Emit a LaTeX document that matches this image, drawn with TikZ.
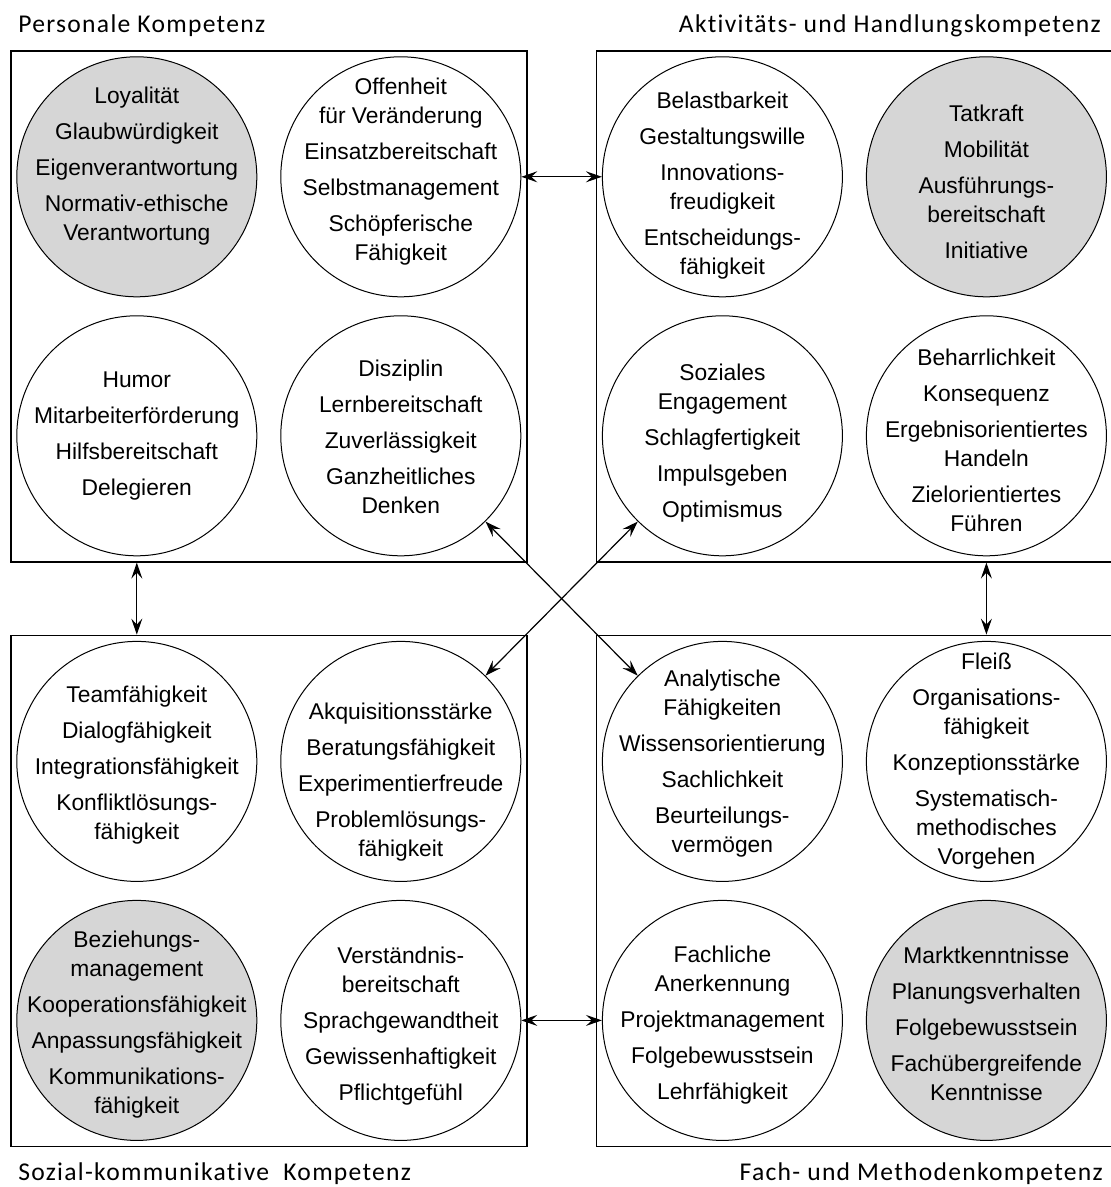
\documentclass[tikz,border=0pt]{standalone}
\usepackage{fontspec}
\usetikzlibrary{matrix, positioning, arrows.meta}
\newfontfamily\kreisfont{Liberation Sans}
\newfontfamily\titelfont[LetterSpace=5, Ligatures=NoCommon]{Carlito}
\definecolor{hellgrau}{rgb}{0.84,0.84,0.84}
\newcommand\kreistext[2][0pt]{\makebox[0pt]{\smash{\raisebox{-#1}{$\vcenter{\hbox{\begin{tabular}{@{}c@{}}#2\end{tabular}}}$}}}}

\begin{document}
\begin{tikzpicture}[
  >={Stealth[length=8pt, width=5.5pt, inset=3pt]},
  feld/.style={draw, line width=0.8pt, inner sep=2.75pt, column sep=11.5pt, row sep=9pt},
  kreis/.style={circle, draw, line width=0.5pt, minimum size=120pt, inner sep=0pt,
    font=\kreisfont\fontsize{11.4}{14.5}\selectfont},
  grau/.style={kreis, fill=hellgrau},
  titel/.style={font=\titelfont\fontsize{12.8}{15}\selectfont, inner sep=0pt},
  pfeil/.style={<->, line width=0.6pt}
]
\useasboundingbox (-5pt,25pt) rectangle (550pt,-568.5pt);

% Personale Kompetenz
\matrix (pk) [feld, anchor=north west] at (0,0) {
  \node[grau] (p1) {\kreistext[-2.75pt]{Loyalität\\[3.5pt] Glaubwürdigkeit\\[3.5pt] Eigenverantwortung\\[3.5pt] Normativ-ethische\\ Verantwortung}}; &
  \node[kreis] (p2) {\kreistext{Offenheit\\ für Veränderung\\[3.5pt] Einsatzbereitschaft\\[3.5pt] Selbstmanagement\\[3.5pt] Schöpferische\\ Fähigkeit}}; \\
  \node[kreis] (p3) {\kreistext[2.5pt]{Humor\\[3.5pt] Mitarbeiterförderung\\[3.5pt] Hilfsbereitschaft\\[3.5pt] Delegieren}}; &
  \node[kreis] (p4) {\kreistext[4.5pt]{Disziplin\\[3.5pt] Lernbereitschaft\\[3.5pt] Zuverlässigkeit\\[3.5pt] Ganzheitliches\\ Denken}}; \\
};

% Aktivitaets- und Handlungskompetenz
\matrix (ak) [feld, right=34pt of pk] {
  \node[kreis] (a1) {\kreistext[7.25pt]{Belastbarkeit\\[3.5pt] Gestaltungswille\\[3.5pt] Innovations-\\ freudigkeit\\[3.5pt] Entscheidungs-\\ fähigkeit}}; &
  \node[grau] (a2) {\kreistext[6.25pt]{Tatkraft\\[3.5pt] Mobilität\\[3.5pt] Ausführungs-\\ bereitschaft\\[3.5pt] Initiative}}; \\
  \node[kreis] (a3) {\kreistext[6.25pt]{Soziales\\ Engagement\\[3.5pt] Schlagfertigkeit\\[3.5pt] Impulsgeben\\[3.5pt] Optimismus}}; &
  \node[kreis] (a4) {\kreistext[6.25pt]{Beharrlichkeit\\[3.5pt] Konsequenz\\[3.5pt] Ergebnisorientiertes\\ Handeln\\[3.5pt] Zielorientiertes\\ Führen}}; \\
};

% Sozial-kommunikative Kompetenz
\matrix (sk) [feld, below=36pt of pk] {
  \node[kreis] (s1) {\kreistext[4.75pt]{Teamfähigkeit\\[3.5pt] Dialogfähigkeit\\[3.5pt] Integrationsfähigkeit\\[3.5pt] Konfliktlösungs-\\ fähigkeit}}; &
  \node[kreis] (s2) {\kreistext[13pt]{Akquisitionsstärke\\[3.5pt] Beratungsfähigkeit\\[3.5pt] Experimentierfreude\\[3.5pt] Problemlösungs-\\ fähigkeit}}; \\
  \node[grau] (s3) {\kreistext[4.75pt]{Beziehungs-\\ management\\[3.5pt] Kooperationsfähigkeit\\[3.5pt] Anpassungsfähigkeit\\[3.5pt] Kommunikations-\\ fähigkeit}}; &
  \node[kreis] (s4) {\kreistext[5.5pt]{Verständnis-\\ bereitschaft\\[3.5pt] Sprachgewandtheit\\[3.5pt] Gewissenhaftigkeit\\[3.5pt] Pflichtgefühl}}; \\
};

% Fach- und Methodenkompetenz
\matrix (fk) [feld, below=36pt of ak] {
  \node[kreis] (f1) {\kreistext[4pt]{Analytische\\ Fähigkeiten\\[3.5pt] Wissensorientierung\\[3.5pt] Sachlichkeit\\[3.5pt] Beurteilungs-\\ vermögen}}; &
  \node[kreis] (f2) {\kreistext[2.75pt]{Fleiß\\[3.5pt] Organisations-\\ fähigkeit\\[3.5pt] Konzeptionsstärke\\[3.5pt] Systematisch-\\ methodisches\\ Vorgehen}}; \\
  \node[kreis] (f3) {\kreistext[5.25pt]{Fachliche\\ Anerkennung\\[3.5pt] Projektmanagement\\[3.5pt] Folgebewusstsein\\[3.5pt] Lehrfähigkeit}}; &
  \node[grau] (f4) {\kreistext[5.75pt]{Marktkenntnisse\\[3.5pt] Planungsverhalten\\[3.5pt] Folgebewusstsein\\[3.5pt] Fachübergreifende\\ Kenntnisse}}; \\
};

% titles
\node[titel, anchor=base west] (tpk) at ([xshift=4pt, yshift=8.5pt]pk.north west) {Personale Kompetenz};
\node[titel, anchor=base east] (tak) at ([xshift=-6pt, yshift=8.5pt]ak.north east) {Aktivitäts- und Handlungskompetenz};
\node[titel, anchor=base west] (tsk) at ([xshift=4pt, yshift=-16.5pt]sk.south west) {Sozial-kommunikative~ Kompetenz};
\node[titel, anchor=base east] (tfk) at ([xshift=-5pt, yshift=-16.5pt]fk.south east) {Fach- und Methodenkompetenz};

% connectors
\draw[pfeil] (p2) -- (a1);
\draw[pfeil] (s4) -- (f3);
\draw[pfeil] (p3 |- pk.south) -- (s1 |- sk.north);
\draw[pfeil] (a4 |- ak.south) -- (f2 |- fk.north);
\draw[pfeil] (p4) -- (f1);
\draw[pfeil] (a3) -- (s2);

\end{tikzpicture}
\end{document}
